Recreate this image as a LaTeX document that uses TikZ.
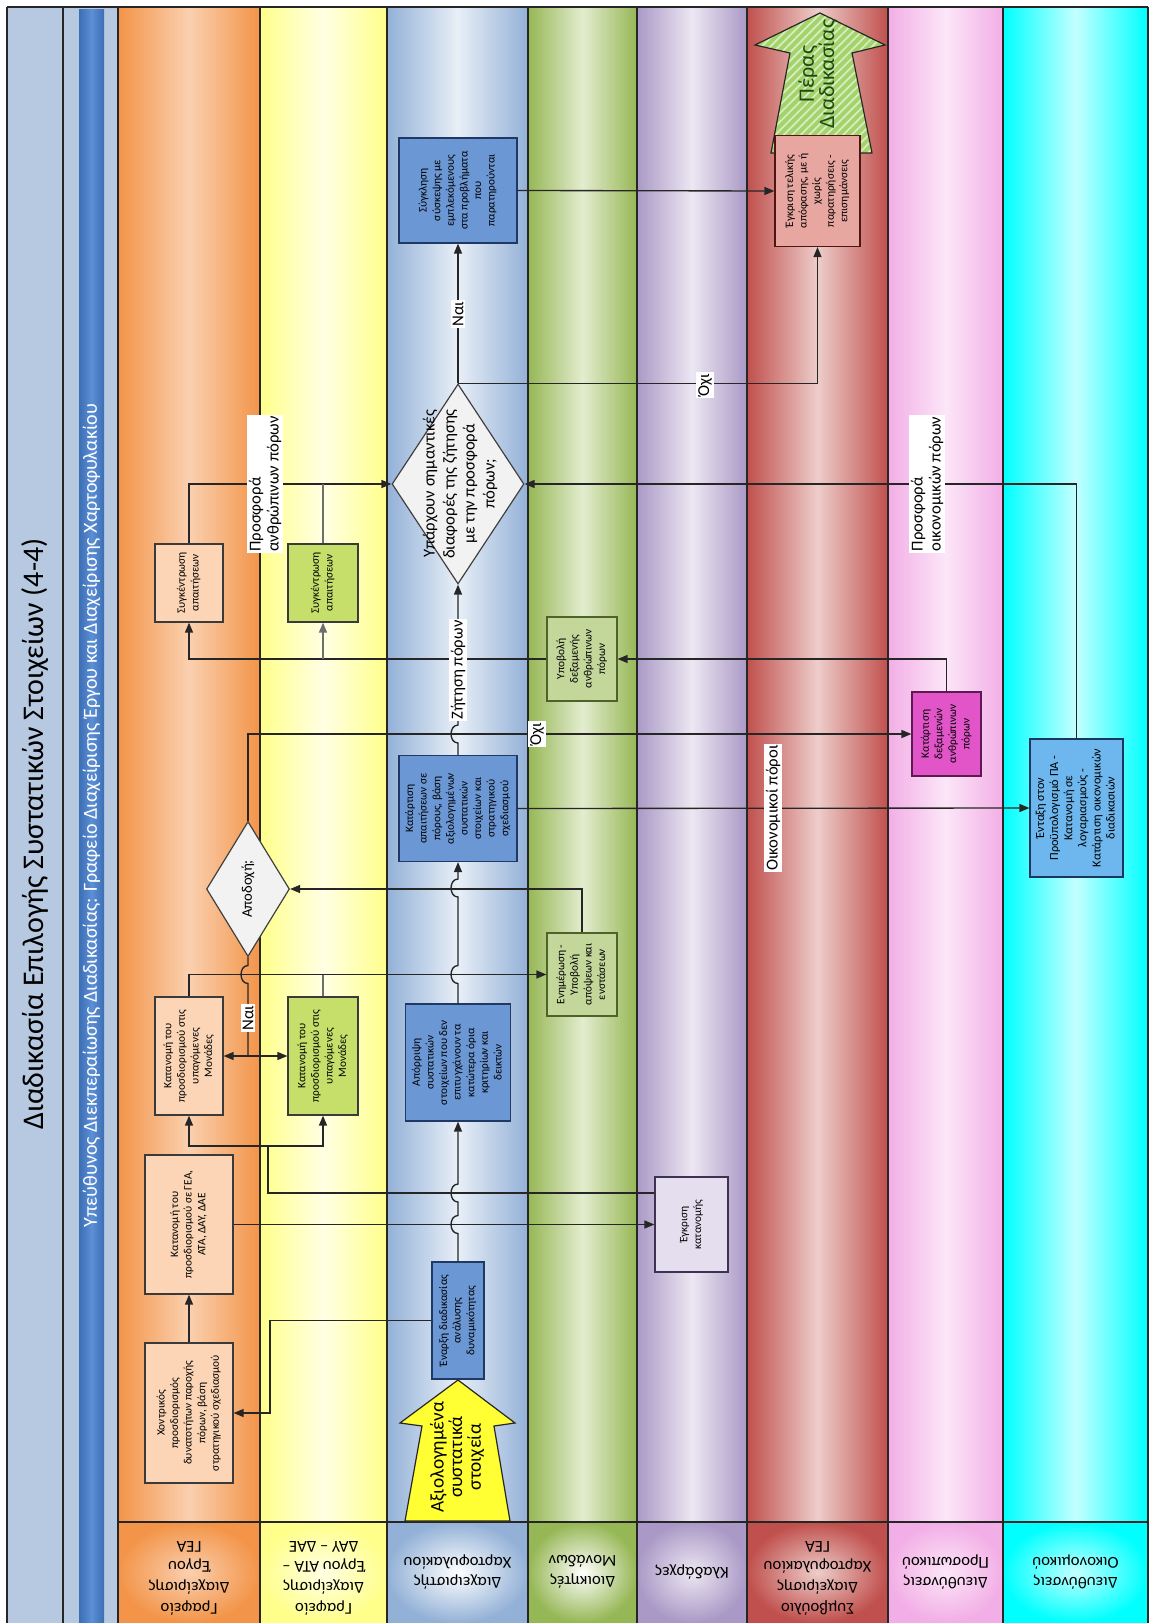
\documentclass[tikz,border=0pt]{standalone}
\usepackage{fontspec}
\setmainfont{Carlito}
\usepackage{graphicx}
\usetikzlibrary{arrows.meta,shapes.geometric,patterns.meta}

% lane colours (edge / middle)
\definecolor{linec}{HTML}{262626}
\definecolor{titlebg}{HTML}{B6C9E1}
\definecolor{barA}{HTML}{3C6EB4}
\definecolor{barB}{HTML}{5B8FD6}
\definecolor{orE}{HTML}{F39448}
\definecolor{orM}{HTML}{FAD0B0}
\definecolor{yeE}{HTML}{FFFF8A}
\definecolor{yeM}{HTML}{FFFFE4}
\definecolor{blE}{HTML}{93B1D7}
\definecolor{blM}{HTML}{E8EFF7}
\definecolor{grE}{HTML}{96B755}
\definecolor{grM}{HTML}{E3ECCF}
\definecolor{puE}{HTML}{AA99C6}
\definecolor{puM}{HTML}{ECE7F2}
\definecolor{reE}{HTML}{C0504D}
\definecolor{reM}{HTML}{EDCDCA}
\definecolor{piE}{HTML}{F2AEE6}
\definecolor{piM}{HTML}{FCE6F8}
\definecolor{cyE}{HTML}{00FFFF}
\definecolor{cyM}{HTML}{C4FFFF}
% box colours
\definecolor{boxbd}{HTML}{3A3A3A}
\definecolor{orbox}{HTML}{FBD5B5}
\definecolor{yebox}{HTML}{C6DF6A}
\definecolor{blbox}{HTML}{6B97D4}
\definecolor{blbd}{HTML}{1F3864}
\definecolor{grbox}{HTML}{C4D79B}
\definecolor{grbd}{HTML}{4F6228}
\definecolor{pubox}{HTML}{E5DEEE}
\definecolor{pubd}{HTML}{3F3151}
\definecolor{rebox}{HTML}{E8A6A0}
\definecolor{rebd}{HTML}{4F1513}
\definecolor{pibox}{HTML}{E155C9}
\definecolor{pibd}{HTML}{5E1A50}
\definecolor{cybox}{HTML}{6DB7EE}
\definecolor{cybd}{HTML}{17375E}
\definecolor{diafill}{HTML}{F2F2F2}
\definecolor{diabd}{HTML}{404040}
\definecolor{startfill}{HTML}{FFFF33}
\definecolor{endfill}{HTML}{A3D36A}
\definecolor{endstripe}{HTML}{D8EEC2}
\definecolor{endtext}{HTML}{1E4A12}
\definecolor{stubc}{HTML}{6E6E6E}

\newcommand{\rtext}[1]{\rotatebox{90}{\begin{tabular}{@{}c@{}}#1\end{tabular}}}

\begin{document}
\begin{tikzpicture}[x=0.75pt,y=-0.75pt,
  sz/.style 2 args={minimum width={(#1)*0.75pt},minimum height={(#2)*0.75pt}},
  bx/.style={draw=boxbd,line width=0.9pt,inner sep=0pt,font=\fontsize{8.5}{10.2}\selectfont},
  dia/.style={diamond,draw=diabd,fill=diafill,line width=0.9pt,inner sep=0pt},
  conn/.style={draw=linec,line width=1pt},
  arr/.style={conn,-{Triangle[length=7.5pt,width=6pt]}},
  lbl/.style={fill=white,inner sep=1.2pt,rotate=90,font=\fontsize{12.5}{13.5}\selectfont,align=left},
  hdr/.style={rotate=180,align=center,font=\fontsize{12.5}{15.5}\selectfont},
  sepline/.style={draw=linec,line width=1pt},
  bup/.style={insert path={.. controls +(-9.3,0) and +(-9.3,0) .. ++(0,-18)}},
  bdown/.style={insert path={.. controls +(-9.3,0) and +(-9.3,0) .. ++(0,18)}}
]
\useasboundingbox (0,0) rectangle (1150,1623);
\fill[white] (0,0) rectangle (1150,1623);

% ---- title columns
\fill[titlebg] (7,7) rectangle (118,1623);
\shade[left color=barA,right color=barA,middle color=barB] (79,10) rectangle (104,1623);

% ---- lanes
\shade[left color=orE,right color=orE,middle color=orM] (118,7) rectangle (260,1522);
\shade[left color=yeE,right color=yeE,middle color=yeM] (260,7) rectangle (387,1522);
\shade[left color=blE,right color=blE,middle color=blM] (387,7) rectangle (528,1522);
\shade[left color=grE,right color=grE,middle color=grM] (528,7) rectangle (637,1522);
\shade[left color=puE,right color=puE,middle color=puM] (637,7) rectangle (747,1522);
\shade[left color=reE,right color=reE,middle color=reM] (747,7) rectangle (888,1522);
\shade[left color=piE,right color=piE,middle color=piM] (888,7) rectangle (1003,1522);
\shade[left color=cyE,right color=cyE,middle color=cyM] (1003,7) rectangle (1148,1522);

% ---- lane headers
\shade[inner color=orM,outer color=orE] (118,1522) rectangle (260,1623);
\shade[inner color=yeM,outer color=yeE] (260,1522) rectangle (387,1623);
\shade[inner color=white,outer color=blE] (387,1522) rectangle (528,1623);
\shade[inner color=white,outer color=grE] (528,1522) rectangle (637,1623);
\shade[inner color=puM,outer color=puE] (637,1522) rectangle (747,1623);
\shade[inner color=reM,outer color=reE] (747,1522) rectangle (888,1623);
\shade[inner color=piM,outer color=piE] (888,1522) rectangle (1003,1623);
\shade[inner color=cyM,outer color=cyE] (1003,1522) rectangle (1148,1623);

% ---- separators
\foreach \xx in {7,63,118,260,387,528,637,747,888,1003,1148}
  \draw[sepline] (\xx,7) -- (\xx,1623);
\draw[sepline] (7,7) -- (1148,7);
\draw[sepline] (118,1522) -- (1148,1522);

% ---- titles
\node[rotate=90,font=\fontsize{22.5}{26}\selectfont] (title) at (35,834)
  {Διαδικασία Επιλογής Συστατικών Στοιχείων (4-4)};
\node[rotate=90,text=white,font=\fontsize{15}{17}\selectfont] (subt) at (91.5,815.5)
  {Υπεύθυνος Διεκπεραίωσης Διαδικασίας: Γραφείο Διαχείρισης Έργου και Διαχείρισης Χαρτοφυλακίου};

% ---- lane header labels
\node[hdr] (h1) at (189,1578) {Γραφείο\\Διαχείρισης\\Έργου\\ΓΕΑ};
\node[hdr] (h2) at (323.5,1578) {Γραφείο\\Διαχείρισης\\Έργου ΑΤΑ –\\ΔΑΥ – ΔΑΕ};
\node[hdr] (h3) at (457.5,1572) {Διαχειριστής\\Χαρτοφυλακίου};
\node[hdr] (h4) at (582.5,1572) {Διοικητές\\Μονάδων};
\node[hdr] (h5) at (692,1572) {Κλαδάρχες};
\node[hdr] (h6) at (817.5,1578) {Συμβούλιο\\Διαχείρισης\\Χαρτοφυλακίου\\ΓΕΑ};
\node[hdr] (h7) at (945.5,1572) {Διευθύνσεις\\Προσωπικού};
\node[hdr] (h8) at (1075.5,1572) {Διευθύνσεις\\Οικονομικού};

% ---- start and end arrows
\filldraw[draw=linec,fill=startfill,line width=0.9pt]
  (458,1380) -- (515,1423) -- (494,1426) -- (510,1521) -- (405,1521) -- (422,1426) -- (400,1423) -- cycle;
\node[rotate=90,align=center,font=\fontsize{14.5}{14}\selectfont] (st) at (457,1457)
  {Αξιολογημένα\\συστατικά\\στοιχεία};
\path[preaction={fill=endfill},pattern={Lines[angle=45,distance=4.5pt,line width=1.3pt]},
  pattern color=endstripe,draw=linec,line width=0.9pt]
  (820,13) -- (885,45) -- (852,53) -- (872,153) -- (771,153) -- (790,53) -- (755,45) -- cycle;
\node[rotate=90,align=center,text=endtext,font=\fontsize{16.5}{13}\selectfont] (en) at (818,74)
  {Πέρας\\Διαδικασίας};

% ---- process boxes
\node[bx,fill=orbox,sz={88}{140}] (b1) at (189,1413)
  {\rtext{Χοντρικός\\προσδιορισμός\\δυνατοτήτων παροχής\\πόρων, βάση\\στρατηγικού σχεδιασμού}};
\node[bx,fill=orbox,sz={88}{139}] (b2) at (189,1224.5)
  {\rtext{Κατανομή του\\προσδιορισμού σε ΓΕΑ,\\ΑΤΑ, ΔΑΥ, ΔΑΕ}};
\node[bx,fill=orbox,sz={68}{118}] (b3) at (189,1056)
  {\rtext{Κατανομή του\\προσδιορισμού στις\\υπαγόμενες\\Μονάδες}};
\node[bx,fill=orbox,sz={68}{78}] (b5) at (189,583)
  {\rtext{Συγκέντρωση\\απαιτήσεων}};
\node[bx,fill=yebox,sz={70}{118}] (b6) at (323,1056)
  {\rtext{Κατανομή του\\προσδιορισμού στις\\υπαγόμενες\\Μονάδες}};
\node[bx,fill=yebox,sz={70}{78}] (b7) at (323,583)
  {\rtext{Συγκέντρωση\\απαιτήσεων}};
\node[bx,fill=blbox,draw=blbd,sz={52}{117}] (b8) at (458,1320.5)
  {\rtext{Έναρξη διαδικασίας\\ανάλυσης\\δυναμικότητας}};
\node[bx,fill=blbox,draw=blbd,sz={105}{117}] (b9) at (458,1062.5)
  {\rtext{Απόρριψη\\συστατικών\\στοιχείων που δεν\\επιτυγχάνουν τα\\κατώτερα όρια\\κριτηρίων και\\δεικτών}};
\node[bx,fill=blbox,draw=blbd,sz={118}{106}] (b10) at (458,808.5)
  {\rtext{Κατάρτιση\\απαιτήσεων σε\\πόρους, βάση\\αξιολογημένων\\συστατικών\\στοιχείων και\\στρατηγικού\\σχεδιασμού}};
\node[bx,fill=blbox,draw=blbd,sz={118}{105}] (b12) at (458,190.5)
  {\rtext{Σύγκληση\\σύσκεψης με\\εμπλεκόμενους\\στα προβλήματα\\που\\παρατηρούνται}};
\node[bx,fill=grbox,draw=grbd,sz={70}{83}] (b14) at (582,974.5)
  {\rtext{Ενημέρωση -\\Υποβολή\\απόψεων και\\ενστάσεων}};
\node[bx,fill=grbox,draw=grbd,sz={70}{84}] (b15) at (582,659)
  {\rtext{Υποβολή\\δεξαμενής\\ανθρώπινων\\πόρων}};
\node[bx,fill=pubox,draw=pubd,sz={73}{95}] (b16) at (691.5,1224.5)
  {\rtext{Έγκριση\\κατανομής}};
\node[bx,fill=rebox,draw=rebd,sz={85}{111}] (b17) at (817.5,191)
  {\rtext{Έγκριση τελικής\\απόφασης, με ή\\χωρίς\\παρατηρήσεις -\\επισημάνσεις}};
\node[bx,fill=pibox,draw=pibd,sz={69}{84}] (b20) at (946.5,734)
  {\rtext{Κατάρτιση\\δεξαμενών\\ανθρώπινων\\πόρων}};
\node[bx,fill=cybox,draw=cybd,sz={93}{138},font=\fontsize{9.2}{10.6}\selectfont] (b21) at (1076.5,808)
  {\rtext{Ένταξη στον\\Προϋπολογισμό ΠΑ -\\Κατανομή σε\\λογαριασμούς -\\Κατάρτιση οικονομικών\\διαδικασιών}};

% ---- decisions
\node[dia,sz={83}{135}] (d1) at (248,889) {};
\node[rotate=90,font=\fontsize{11}{13}\selectfont] (d1t) at (d1.center) {Αποδοχή;};
\node[dia,sz={132}{200}] (d2) at (458,484) {};
\node[rotate=90,align=center,font=\fontsize{12.5}{15}\selectfont] (d2t) at (460,484)
  {Υπάρχουν σημαντικές\\διαφορές της ζήτησης\\με την προσφορά\\πόρων;};

% ---- connectors
\draw[arr] (b8.west) -| (270,1413) -- (b1.east);
\draw[arr] (b1.north) -- (b2.south);
\draw[arr] (b2.east) -- (b16.west);
\draw[conn] (b16.west |- 0,1193) -| (268,1146) coordinate (j5);
\draw[arr] (j5) -| (b3.south);
\draw[arr] (j5) -- (b6.south |- j5) -- (b6.south);
\draw[arr] (b8.north) -- (458,1233.5) [bup] -- (458,1202) [bup] -- (b9.south);
\draw[arr] (b9.north) -- (458,983.5) [bup] -- (458,897) [bup] -- (b10.south);
\draw[arr] (b3.north) |- (b14.west);
\draw[conn,stubc] (b6.north) -- (b6.north |- b14.west);
\draw[arr] (b14.north) |- (d1.east);
\draw[conn] (d1.south) -- (248,965.5) [bdown] -- (248,1056) coordinate (jn);
\draw[arr] (jn) -- (b3.east);
\draw[arr] (jn) -- (b6.west);
\draw[arr] (d1.north) |- (b20.west);
\draw[arr] (b20.north) |- (b15.east);
\draw[arr] (b15.west) -| (b5.south);
\draw[arr,stubc] (b7.south |- b15.west) -- (b7.south);
\draw[arr] (b5.north) |- (d2.west);
\draw[conn,stubc] (b7.north) -- (b7.north |- d2.west);
\draw[arr] (b21.north) |- (d2.east);
\draw[arr] (b10.north) -- (458,743) [bup] -- (d2.south);
\draw[arr] (b10.east) -- (b21.west);
\draw[arr] (d2.north) -- (b12.south);
\draw[arr] (d2.north) -| (b17.south);
\draw[arr] (b12.east) -- (b17.west);

% ---- connector labels
\node[lbl] (l1) at (248,1018) {Ναι};
\node[lbl] (l2) at (537,734) {Όχι};
\node[lbl] (l3) at (458,670) {Ζήτηση πόρων};
\node[lbl] (l4) at (265,484) {Προσφορά\\ανθρώπινων πόρων};
\node[lbl] (l5) at (927,484) {Προσφορά\\οικονομικών πόρων};
\node[lbl] (l6) at (773,808) {Οικονομικοί πόροι};
\node[lbl] (l7) at (458,314) {Ναι};
\node[lbl] (l8) at (705,385) {Όχι};
\end{tikzpicture}
\end{document}
